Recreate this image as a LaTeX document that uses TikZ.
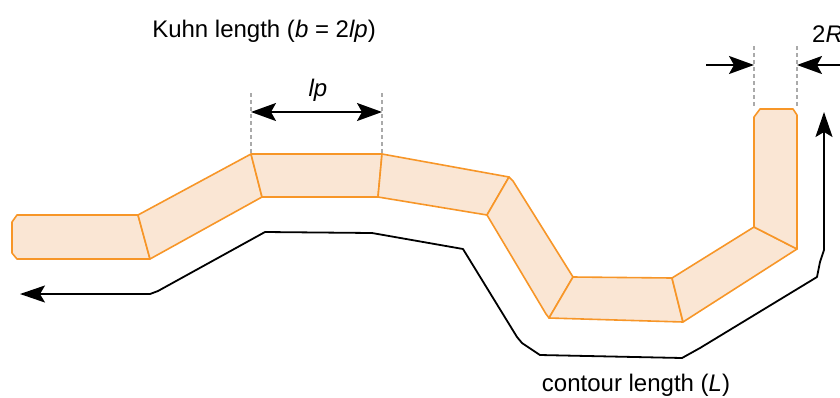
\documentclass[tikz,border=0pt]{standalone}
\usepackage{fontspec}
\setmainfont{Liberation Sans}
\usetikzlibrary{arrows.meta}
\definecolor{segline}{RGB}{247,150,40}
\definecolor{segfill}{RGB}{250,230,212}
\definecolor{dimgray}{RGB}{170,170,170}
\tikzset{
  seg/.style={draw=segline,fill=segfill,line width=1.6pt,line join=round},
  guide/.style={draw=dimgray,line width=1.3pt,dash pattern=on 4pt off 3pt},
  dimarrow/.style={line width=1.8pt,-{Stealth[length=25pt,width=18pt,inset=5pt]}},
  dimboth/.style={line width=1.8pt,{Stealth[length=25pt,width=18pt,inset=5pt]}-{Stealth[length=25pt,width=18pt,inset=5pt]}},
  contour/.style={line width=1.8pt,line join=round,{Stealth[length=25pt,width=17pt,inset=5pt]}-{Stealth[length=25pt,width=17pt,inset=5pt]}},
  lbl/.style={font=\fontsize{24}{28}\selectfont,inner sep=0pt}
}
\begin{document}
\begin{tikzpicture}[x=1pt,y=-1pt]
\useasboundingbox (0,0) rectangle (840,397);
% segments
\draw[seg] (12,222) -- (17,215) -- (138,215) -- (150,259) -- (17,259) -- (12,253) -- cycle;
\draw[seg] (138,215) -- (251,154) -- (262,197) -- (150,259) -- cycle;
\draw[seg] (251,154) -- (382,154) -- (378,197) -- (262,197) -- cycle;
\draw[seg] (382,154) -- (509,177) -- (487,215) -- (378,197) -- cycle;
\draw[seg] (509,177) -- (513,181) -- (573,277) -- (549,318) -- (546,314) -- (487,215) -- cycle;
\draw[seg] (573,277) -- (672,278) -- (683,322) -- (549,318) -- cycle;
\draw[seg] (672,278) -- (754,227) -- (797,249) -- (683,322) -- cycle;
\draw[seg] (754,227) -- (754,117) -- (760,109) -- (793,109) -- (797,115) -- (797,249) -- cycle;
% guides
\draw[guide] (251,93) -- (251,153);
\draw[guide] (382,93) -- (382,153);
\draw[guide] (754,46) -- (754,108);
\draw[guide] (797,46) -- (797,108);
% lp dimension
\coordinate (lpL) at (251,112);
\coordinate (lpR) at (382,112);
\draw[dimboth] (lpL) -- (lpR);
\node[lbl,font=\fontsize{24}{28}\selectfont\itshape] (lp) at (318,90) {lp};
% 2R dimension
\coordinate (rA) at (706,65);
\coordinate (rB) at (754,65);
\coordinate (rC) at (845,65);
\coordinate (rD) at (797,65);
\draw[dimarrow] (rA) -- (rB);
\draw[dimarrow] (rC) -- (rD);
\node[lbl,anchor=base west] (twoR) at (812,42) {2\textit{R}};
% contour
\coordinate (cS) at (20,294);
\coordinate (cE) at (824,112);
\draw[contour] (cS) -- (150,294) -- (158,291) -- (265,232) -- (372,233) -- (463,249) -- (517,337) -- (522,343) -- (540,355) -- (682,358) -- (700,348) -- (817,277) -- (820,262) -- (824,250) -- (cE);
% labels
\node[lbl] (kuhn) at (264,31) {Kuhn length (\textit{b} = 2\textit{lp})};
\node[lbl] (contourlbl) at (636,385) {contour length (\textit{L})};
\end{tikzpicture}
\end{document}
